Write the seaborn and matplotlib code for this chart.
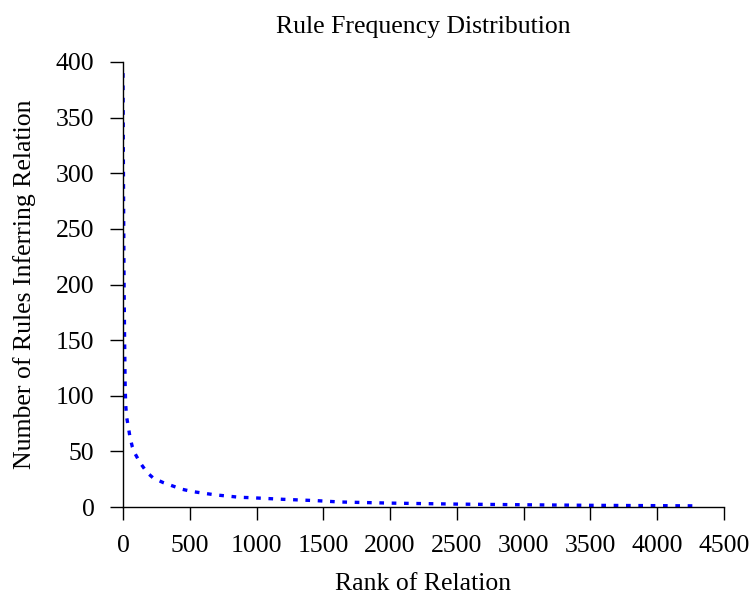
import matplotlib
matplotlib.use("Agg")
import matplotlib.pyplot as plt
import seaborn as sns
import pandas as pd

# Data
rank = [0, 2, 5, 8, 12, 16, 20, 27, 40, 52, 70, 90, 127, 180, 227, 300, 440,
        524, 626, 700, 876, 951, 1200, 1450, 1625, 2000, 2500, 3000, 3500, 4000, 4320]
rules = [390, 330, 260, 200, 150, 110, 92, 81, 72, 63, 54, 48, 40, 31, 26, 22, 16,
         13.8, 12, 10.8, 8.7, 8.4, 6.9, 5.7, 4.5, 3.5, 2.6, 2.0, 1.5, 1.2, 1.0]
title = "Rule Frequency Distribution"
xlabel = "Rank of Relation"
ylabel = "Number of Rules Inferring Relation"
xticks = [0, 500, 1000, 1500, 2000, 2500, 3000, 3500, 4000, 4500]
yticks = [0, 50, 100, 150, 200, 250, 300, 350, 400]

df = pd.DataFrame({"rank": rank, "rules": rules})

sns.set_style("ticks")
plt.rcParams["font.family"] = ["Liberation Serif", "DejaVu Serif"]
plt.rcParams["text.color"] = "black"
plt.rcParams["axes.labelcolor"] = "black"

fig = plt.figure(figsize=(7.55, 5.94), dpi=100)
ax = fig.add_axes([123/755, 1-507/594, (724-123)/755, (507-62)/594])

sns.lineplot(data=df, x="rank", y="rules", ax=ax, color="#0000ff",
             linewidth=2.4, linestyle=(0, (1.4, 2.3)))

ax.set_xlim(0, 4500)
ax.set_ylim(0, 400)
ax.set_xticks(xticks)
ax.set_yticks(yticks)
ax.tick_params(direction="out", length=9.5, width=1, colors="black",
               labelsize=18.5)
ax.tick_params(axis="x", pad=11)
ax.tick_params(axis="y", pad=11)
for s in ["top", "right"]:
    ax.spines[s].set_visible(False)
for s in ["left", "bottom"]:
    ax.spines[s].set_linewidth(1)
    ax.spines[s].set_color("black")
ax.set_title(title, fontsize=18.5, pad=21)
ax.set_xlabel(xlabel, fontsize=18.5, labelpad=11)
ax.set_ylabel(ylabel, fontsize=18.5, labelpad=14)

fig.savefig("out.png", dpi=100)
